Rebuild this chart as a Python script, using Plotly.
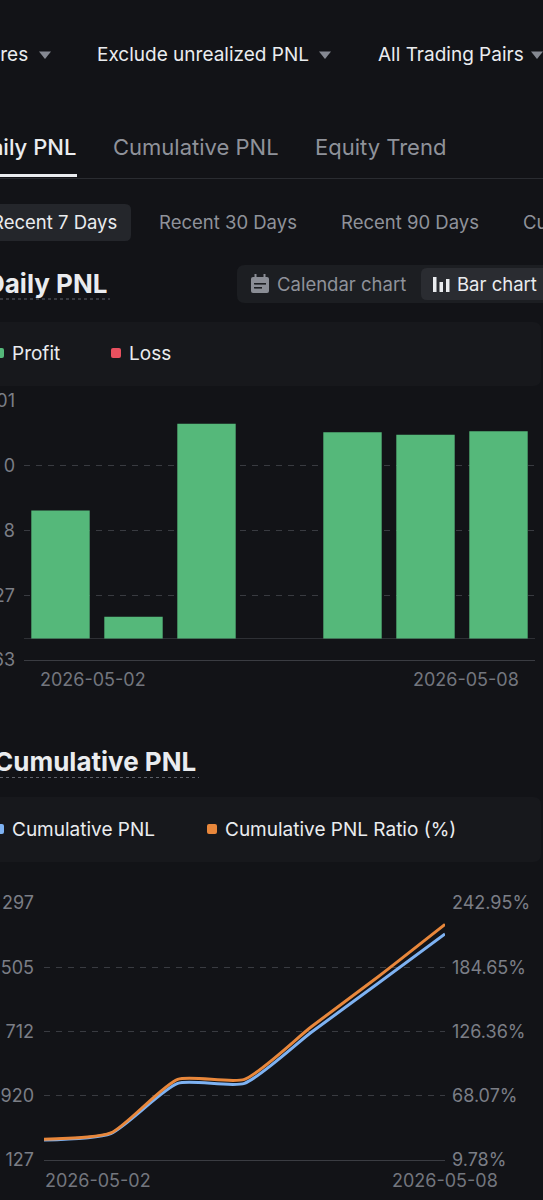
import plotly.graph_objects as go

W, H = 543, 1200


def X(px):
    return px / W


def Y(py):
    return 1 - py / H


# ---------------- data ----------------
dates = ["2026-05-02", "2026-05-03", "2026-05-04", "2026-05-05",
         "2026-05-06", "2026-05-07", "2026-05-08"]
daily_pnl = [376, 64, 630, 0, 605, 598, 608]
cum_pnl = [374, 454, 1073, 1073, 1702, 2307, 2915]
cum_ratio = [28.6, 34.3, 83.0, 83.0, 130.7, 176.1, 223.6]

bar_tickvals = [-63, 127, 317, 507, 697]
bar_ticktext = ["63", "27", "8", "0", "01"]
cum_tickvals = [127, 919.5, 1712, 2504.5, 3297]
cum_ticktext = ["127", "920", "712", "505", "297"]
ratio_tickvals = [9.78, 68.07, 126.36, 184.65, 242.95]
ratio_ticktext = ["9.78%", "68.07%", "126.36%", "184.65%", "242.95%"]

# ---------------- styles ----------------
BG = "#121317"
PANEL = "#17181c"
WHITE = "#eaecef"
GRAY = "#8f929a"
TICK = "#7b7e86"
GRID = "#393b41"
GREEN = "#55b87a"
RED = "#e8505f"
BLUE = "#7eb2f2"
ORANGE = "#e8873b"
FONT = "Inter"

fig = go.Figure()
fig.add_trace(go.Bar(x=dates, y=daily_pnl, name="Profit",
                     marker=dict(color=GREEN, line=dict(width=0)),
                     xaxis="x", yaxis="y", showlegend=False))
fig.add_trace(go.Scatter(x=dates, y=cum_pnl, name="Cumulative PNL", mode="lines",
                         line=dict(color=BLUE, width=3, shape="spline", smoothing=0.6),
                         xaxis="x2", yaxis="y2", showlegend=False))
fig.add_trace(go.Scatter(x=dates, y=cum_ratio, name="Cumulative PNL Ratio (%)", mode="lines",
                         line=dict(color=ORANGE, width=3, shape="spline", smoothing=0.6),
                         xaxis="x2", yaxis="y3", showlegend=False))


def rrect(x0, y0, x1, y1, r, fill):
    rx, ry = r, r
    p = (f"M {X(x0 + rx)},{Y(y0)} L {X(x1 - rx)},{Y(y0)} Q {X(x1)},{Y(y0)} {X(x1)},{Y(y0 + ry)} "
         f"L {X(x1)},{Y(y1 - ry)} Q {X(x1)},{Y(y1)} {X(x1 - rx)},{Y(y1)} "
         f"L {X(x0 + rx)},{Y(y1)} Q {X(x0)},{Y(y1)} {X(x0)},{Y(y1 - ry)} "
         f"L {X(x0)},{Y(y0 + ry)} Q {X(x0)},{Y(y0)} {X(x0 + rx)},{Y(y0)} Z")
    return dict(type="path", xref="paper", yref="paper", path=p,
                fillcolor=fill, line=dict(width=0), layer="below")


def rect(x0, y0, x1, y1, fill):
    return dict(type="rect", xref="paper", yref="paper", x0=X(x0), x1=X(x1),
                y0=Y(y1), y1=Y(y0), fillcolor=fill, line=dict(width=0), layer="below")


def hline(x0, x1, y, color, width=1, dash="solid"):
    return dict(type="line", xref="paper", yref="paper", x0=X(x0), x1=X(x1),
                y0=Y(y), y1=Y(y), line=dict(color=color, width=width, dash=dash), layer="below")


def tri(xl, xr, yt, yb, color):
    xm = (xl + xr) / 2
    p = f"M {X(xl)},{Y(yt)} L {X(xr)},{Y(yt)} L {X(xm)},{Y(yb)} Z"
    return dict(type="path", xref="paper", yref="paper", path=p,
                fillcolor=color, line=dict(width=0), layer="above")


shapes = [
    # dropdown triangles
    tri(39, 51, 51.5, 59, "#848891"),
    tri(319, 331, 51.5, 59, "#848891"),
    tri(531, 543, 51.5, 59, "#848891"),
    # tabs underline + divider
    hline(0, 543, 178.5, "#2a2c31", 1),
    rect(-5, 174, 77, 177, WHITE),
    # period selected box
    rrect(-10, 204, 131, 241, 6, "#24262b"),
    # chart type toggle
    rrect(237, 265, 560, 303, 8, "#1c1e22"),
    rrect(421, 268, 560, 300, 6, "#2a2c31"),
    # calendar icon
    rrect(251, 277, 269, 293, 2, "#8a8d95"),
    rect(254.5, 274, 256.5, 279, "#8a8d95"),
    rect(263.5, 274, 265.5, 279, "#8a8d95"),
    rect(254, 283, 266, 284.6, "#1c1e22"),
    rect(254, 287, 262, 288.6, "#1c1e22"),
    # bar icon
    rect(433, 277, 436.5, 292, WHITE),
    rect(439.5, 282, 443, 292, WHITE),
    rect(446, 279, 449.5, 292, WHITE),
    # title underlines
    hline(0, 110, 299, "#5f626a", 1, "dot"),
    hline(0, 199, 777.5, "#5f626a", 1, "dot"),
    # legend panels
    rrect(-10, 322, 541, 386, 8, PANEL),
    rrect(-10, 797, 541, 862, 8, PANEL),
    # legend squares
    rrect(-6, 348, 4, 358, 2, GREEN),
    rrect(111, 348, 121, 358, 2, RED),
    rrect(-6, 824, 4, 834, 2, BLUE),
    rrect(207, 824, 217, 834, 2, ORANGE),
]


def txt(s, x, y, anchor="left", size=18, color=WHITE, weight=400, xref="paper", xshift=0):
    return dict(text=s, x=(X(x) if xref == "paper" else x), y=Y(y), xref=xref, yref="paper",
                xanchor=anchor, yanchor="middle", showarrow=False, xshift=xshift,
                font=dict(family=FONT, size=size, color=color, weight=weight))


annotations = [
    txt("Futures", 30, 55, "right", 19),
    txt("Exclude unrealized PNL", 95, 55, "left", 19),
    txt("All Trading Pairs", 376, 55, "left", 19),
    txt("Daily PNL", 78, 147, "right", 22, WHITE, 500),
    txt("Cumulative PNL", 111, 147, "left", 22, GRAY),
    txt("Equity Trend", 313, 147, "left", 22, GRAY),
    txt("Recent 7 Days", 119, 222, "right", 18.5, WHITE),
    txt("Recent 30 Days", 157, 222, "left", 18.5, GRAY),
    txt("Recent 90 Days", 339, 222, "left", 18.5, GRAY),
    txt("Custom", 521, 222, "left", 18.5, GRAY),
    txt("Daily PNL", 109, 283, "right", 26, WHITE, 700),
    txt("Calendar chart", 275, 284, "left", 18.5, GRAY),
    txt("Bar chart", 455, 284, "left", 18.5, WHITE),
    txt("Profit", 10, 353, "left", 19, WHITE),
    txt("Loss", 127, 353, "left", 19, WHITE),
    txt(dates[0], dates[0], 679, "center", 18, "#73767e", xref="x", xshift=32),
    txt(dates[-1], dates[-1], 679, "center", 18, "#73767e", xref="x", xshift=-33),
    txt("Cumulative PNL", 198, 761, "right", 26, WHITE, 700),
    txt("Cumulative PNL", 10, 829, "left", 19, WHITE),
    txt("Cumulative PNL Ratio (%)", 223, 829, "left", 19, WHITE),
    txt(dates[0], dates[0], 1180, "left", 18, "#73767e", xref="x2", xshift=-1),
    txt(dates[-1], dates[-1], 1180, "center", 18, "#73767e", xref="x2"),
]

tickfont = dict(family=FONT, size=18, color=TICK)

fig.update_layout(
    width=W, height=H, autosize=False,
    margin=dict(l=0, r=0, t=0, b=0, pad=0, autoexpand=False),
    paper_bgcolor=BG, plot_bgcolor=BG,
    bargap=0.2,
    shapes=shapes, annotations=annotations,
    xaxis=dict(type="category", domain=[X(24), X(535)], anchor="y", automargin=False,
               showticklabels=False, showgrid=False, zeroline=False,
               showline=True, linecolor="#3a3c42", linewidth=1, ticks="",
               range=[-0.5, 6.5], fixedrange=True),
    yaxis=dict(domain=[Y(660), Y(401)], range=[-63, 697], anchor="x", automargin=False,
               tickmode="array", tickvals=bar_tickvals, ticktext=bar_ticktext,
               showgrid=True, gridcolor=GRID, gridwidth=1, griddash="6px,6px",
               zeroline=True, zerolinecolor="#2e3035", zerolinewidth=1,
               showline=False, ticks="", tickfont=tickfont, ticklabelstandoff=8,
               fixedrange=True),
    xaxis2=dict(type="date", domain=[X(44), X(445)], anchor="y2", automargin=False,
                range=[dates[0], dates[-1]], showticklabels=False, showgrid=False,
                zeroline=False, showline=True, linecolor="#3a3c42", linewidth=1,
                ticks="", fixedrange=True),
    yaxis2=dict(domain=[Y(1160), Y(903)], range=[127, 3297], anchor="x2", automargin=False,
                tickmode="array", tickvals=cum_tickvals, ticktext=cum_ticktext,
                showgrid=True, gridcolor=GRID, gridwidth=1, griddash="6px,6px",
                zeroline=False, showline=False, ticks="", tickfont=tickfont,
                ticklabelstandoff=9, fixedrange=True),
    yaxis3=dict(overlaying="y2", side="right", anchor="x2", range=[9.78, 242.95],
                automargin=False,
                tickmode="array", tickvals=ratio_tickvals, ticktext=ratio_ticktext,
                showgrid=False, zeroline=False, showline=False, ticks="",
                tickfont=tickfont, ticklabelstandoff=6, fixedrange=True),
    font=dict(family=FONT, color=WHITE),
)

fig.write_html("out.html", config={"displayModeBar": False})
